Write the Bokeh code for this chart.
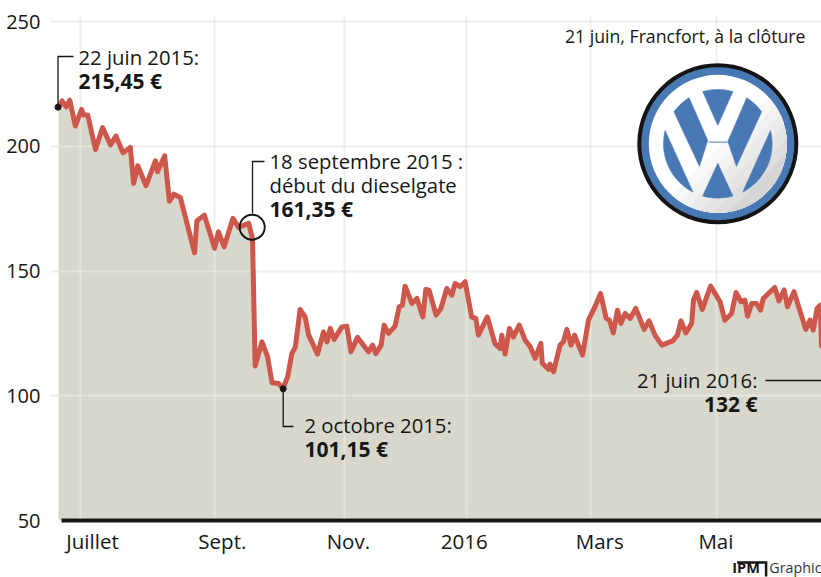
import math
from bokeh.plotting import figure
from bokeh.models import FixedTicker, Label, Range1d
from bokeh.layouts import column
from bokeh.embed import file_html
from bokeh.resources import INLINE

# session number since 22 June 2015, closing price in euros
sessions = [0,1.2,2.6,3.8,5.7,7.8,8.5,9.9,12.5,14.9,17.6,19.4,21.8,24.3,25.4,26.8,29.6,32.8,33.5,35.9,37.5,39,41.2,46,46.8,49.3,52.8,54.1,56,59,60.9,64.3,65.6,66.5,68.8,70.7,72.2,74.4,75.9,77.5,78.9,80.1,81.7,83.4,84.6,87.6,89.6,90.8,91.9,93.2,95.8,97.5,98.9,101.1,104.8,106.2,107.3,109.1,110.1,111.6,113.8,115.2,116.3,117.2,119.5,121.2,123.2,124.2,125.3,127.7,129.3,131.3,133,134.1,135.8,137.5,139.7,141.1,142,145,147.6,149.3,149.9,151,152.5,153.8,155.8,157.8,159.5,161.2,163.1,163.6,165.7,166.2,167.4,169.6,170.7,171.9,173.3,174.5,177.2,179.2,181.4,183.3,185.2,186.3,187.6,189,190.2,191.6,193.3,195.2,198,199.7,201.7,204,207.7,209.3,210.5,212.1,214.1,214.7,215.8,217.7,220.5,223.7,225.3,227.6,229.1,230.8,232.1,233,234.4,236,237.4,238.3,242.2,243.6,245.4,246.5,248.7,252.7,254.1,255.2,256.5,257.6,258]
prices = [215.6,218.2,215.8,218.5,208.1,214.8,212.5,212.5,198.7,207.5,200.5,204.1,197.4,199.5,185.1,192.2,184.2,194.2,189.8,196.2,178,180.8,179.5,157.3,170.1,172.4,159.1,165.7,159.7,171.1,167.5,169.1,163,111.9,121.6,115.6,105.2,104.9,102.9,107.6,116.9,119.6,134.6,131.6,124.3,116.7,125.6,121.6,127,122.6,127.6,127.9,117.6,123.4,117.6,120.3,116.9,120.3,128.3,125,127.9,135.7,136.3,143.9,137,139,131.6,142.6,142.3,132.3,135,143,140.3,145,143.7,145.7,131.6,131,124.3,131.6,120.9,118.9,124.3,116.7,127,123.6,128.3,122.3,119.6,115,121,113,110.6,112.7,109.6,120.3,121.6,126.6,120.3,124.3,116.3,130.3,135.7,141,131,130.3,125.2,134.3,129,133,131,135,126.6,130,124.3,120.3,122,124.3,130,125.2,129,138.3,141.4,134.6,144,137.7,130.3,133,141.4,137.7,138.3,131.9,137,137,134.3,139,143.4,138,142.4,135.7,141.7,126.6,130.3,126.3,135,136.3,120]

y_ticks = [50, 100, 150, 200, 250]
grid_sessions = [7.4, 52.7, 96.6, 138, 180, 222.5]
month_label_pos = [11.5, 55.4, 98, 137.2, 183, 222.3]
month_labels = ["Juillet", "Sept.", "Nov.", "2016", "Mars", "Mai"]

INK = "#161615"
RED = "#cd574b"
AREA = "#d8d7cb"
FONT = "Open Sans"

def dx(px):
    return (px - 58) * 258 / 763

def dy(py):
    return 250 - (py - 21) * 200 / 499

W, H, FOOT = 821, 557, 20
L, T, B = 50, 15, 37
p = figure(width=W, height=H, output_backend="svg", toolbar_location=None,
           x_range=Range1d(dx(L), 258), y_range=Range1d(50, dy(T)),
           min_border_left=L, min_border_right=0, min_border_top=T, min_border_bottom=B)
p.outline_line_color = None
p.background_fill_color = "white"

# axes
p.xaxis.ticker = FixedTicker(ticks=month_label_pos)
p.xaxis.major_label_overrides = dict(zip(month_label_pos, month_labels))
p.xaxis.bounds = (1, 258)
p.xaxis.axis_line_color = INK
p.xaxis.axis_line_width = 4
p.xaxis.major_tick_line_color = None
p.xaxis.minor_tick_line_color = None
p.xaxis.major_label_text_font = FONT
p.xaxis.major_label_text_font_size = "20.5px"
p.xaxis.major_label_text_color = INK
p.xaxis.major_label_standoff = 0

p.yaxis.ticker = FixedTicker(ticks=y_ticks)
p.yaxis.axis_line_color = None
p.yaxis.major_tick_line_color = None
p.yaxis.minor_tick_line_color = None
p.yaxis.major_label_text_font = FONT
p.yaxis.major_label_text_font_size = "20px"
p.yaxis.major_label_text_color = INK
p.yaxis.major_label_standoff = 4

# grid
p.xgrid.ticker = FixedTicker(ticks=grid_sessions)
p.xgrid.bounds = (50, 250)
p.ygrid.ticker = FixedTicker(ticks=y_ticks[1:])
p.ygrid.bounds = (1, 258)
for g in (p.xgrid, p.ygrid):
    g.grid_line_color = "#e8e8e2"
    g.grid_line_alpha = 0.74
    g.grid_line_width = 2
    g.level = "underlay"

# series
area = p.varea(sessions, [50] * len(sessions), prices, fill_color=AREA, level="image")
p.line(sessions, prices, line_color=RED, line_width=5, line_join="round", line_cap="round")

# connectors and markers
def path(points, width=1.3):
    p.line([dx(a) for a, _ in points], [dy(b) for _, b in points],
           line_color=INK, line_width=width, line_join="miter")

path([(57.5, 106), (57.5, 56), (73, 56)])
path([(252, 213), (252, 161), (264, 161)])
path([(282.7, 388), (282.7, 426), (293, 426)])
path([(765, 380), (821, 380)])
p.scatter([dx(57.5), dx(282.7)], [dy(106.7), dy(388.3)], size=6, color=INK)
p.scatter([dx(251.7)], [dy(226.7)], size=25, fill_color=None, line_color=INK, line_width=2)

def text(px, py, s, bold=False, size=20, align="left", color=INK):
    p.add_layout(Label(x=dx(px), y=dy(py - 0.42 * size), text=s, text_font=FONT,
                       text_font_size=f"{size}px", text_color=color, text_align=align,
                       text_baseline="alphabetic",
                       text_font_style="bold" if bold else "normal"))

text(78, 65, "22 juin 2015:", size=20.3)
text(78, 89, "215,45 €", bold=True, size=21)
text(269, 169, "18 septembre 2015 :", size=20.3)
text(269, 193, "début du dieselgate", size=20.3)
text(269, 217, "161,35 €", bold=True, size=21)
text(304, 433, "2 octobre 2015:", size=20.3)
text(304, 457, "101,15 €", bold=True, size=21)
text(757, 388, "21 juin 2016:", align="right", size=20.3)
text(757, 412, "132 €", bold=True, align="right", size=21)
text(805, 43, "21 juin, Francfort, à la clôture", size=17.7, align="right")

# logo
CX, CY = 717.3, 143.3
ZX, ZY = 292, 250

def zoom_pt(z):
    return (CX + (z[0] - ZX) / 3, CY + (z[1] - ZY) / 3)

def arc(a, b, steps=24):
    """Points along the inner disc from zoomed point a to zoomed point b, the short way."""
    r = 163
    t0 = math.atan2(a[1] - ZY, a[0] - ZX)
    t1 = math.atan2(b[1] - ZY, b[0] - ZX)
    d = (t1 - t0 + math.pi) % (2 * math.pi) - math.pi
    return [(ZX + r * math.cos(t0 + d * i / steps), ZY + r * math.sin(t0 + d * i / steps))
            for i in range(steps + 1)]

def poly(points, color):
    pts = [zoom_pt(z) for z in points]
    p.patch([dx(a) for a, _ in pts], [dy(b) for _, b in pts], fill_color=color, line_color=color, line_width=0.5)

BLUE = "#4879b5"
for size, col in ((161, "#141414"), (153, BLUE), (138, "#ffffff")):
    p.scatter([dx(CX)], [dy(CY)], size=size, fill_color=col, line_color=None)

# sheen of the disc: bands towards the lower right
R = 69
levels = [(0.05, "#f8f8f8"), (0.2, "#f1f1f1"), (0.35, "#ebebeb"), (0.5, "#e5e5e5"),
          (0.65, "#dedede"), (0.8, "#d6d6d6")]
for f, col in levels:
    half = math.acos(f)
    n = 30
    pts = [(CX + R * math.cos(math.pi / 4 - half + 2 * half * i / n),
            CY + R * math.sin(math.pi / 4 - half + 2 * half * i / n)) for i in range(n + 1)]
    p.patch([dx(a) for a, _ in pts], [dy(b) for _, b in pts], fill_color=col, line_color=None)

poly([(292, 195)] + arc((337, 95), (247, 95)), BLUE)
poly([(262, 240), (237, 318)] + arc((162, 155), (207, 113)), BLUE)
poly([(322, 243), (348, 318)] + arc((422, 155), (378, 113)), BLUE)
poly(arc((135, 210), (218, 395), 40), BLUE)
poly(arc((450, 210), (367, 395), 40), BLUE)
poly([(292, 308)] + arc((247, 405), (337, 405)), BLUE)
p.line([dx(zoom_pt((265, 245))[0]), dx(zoom_pt((321, 245))[0])],
       [dy(zoom_pt((265, 245))[1])] * 2, line_color=BLUE, line_width=1)

# credit strip under the chart, its ranges counted in picture pixels
foot = figure(width=W, height=FOOT, output_backend="svg", toolbar_location=None,
              x_range=Range1d(0, W), y_range=Range1d(H + FOOT, H),
              x_axis_type=None, y_axis_type=None,
              min_border_left=0, min_border_right=0, min_border_top=0, min_border_bottom=0)
foot.outline_line_color = None
foot.grid.visible = False
foot.line([731, 762, 762], [562, 562, 576], line_color=INK, line_width=2.5, line_join="miter")
foot.add_layout(Label(x=726, y=573 - 0.42 * 14.5, text="IPM", text_font=FONT, text_font_size="14.5px",
                      text_font_style="bold", text_color=INK, text_baseline="alphabetic"))
foot.add_layout(Label(x=821, y=573 - 0.42 * 14.3, text="Graphic", text_font=FONT, text_font_size="14.3px",
                      text_color="#333333", text_align="right", text_baseline="alphabetic"))

page = column(p, foot, spacing=0)
open("out.html", "w").write(file_html(page, INLINE))
